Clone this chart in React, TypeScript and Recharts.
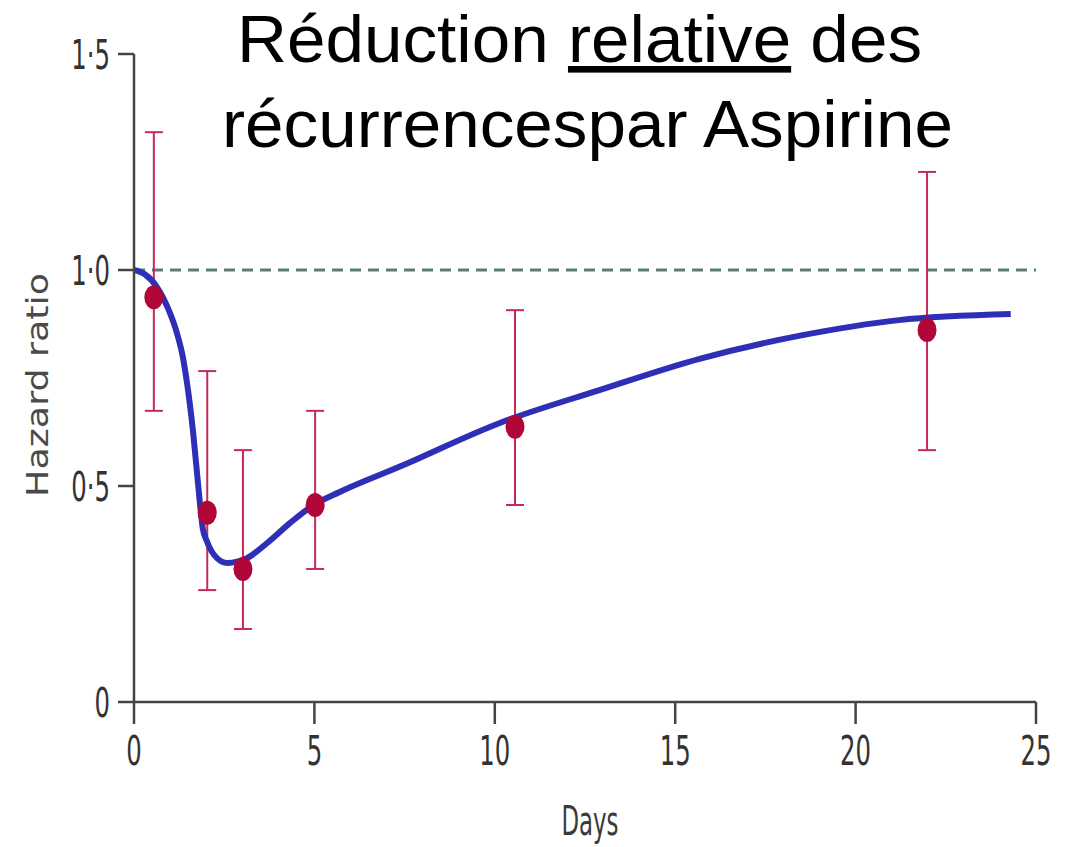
import React from 'react';
import {
  ComposedChart,
  Line,
  Scatter,
  ErrorBar,
  XAxis,
  YAxis,
  ReferenceLine,
} from 'recharts';

if (typeof document !== 'undefined') document.body.style.margin = '0';

// smoothed hazard-ratio curve (day, HR)
const curveDays = [0, 0.3, 0.64, 0.95, 1.19, 1.35, 1.47, 1.64, 1.77, 1.91, 2.02, 2.3, 2.58, 3.13, 3.69, 4.32, 4.96, 5.7, 7.37, 10.14, 12.9, 15.7, 18.46, 21.2, 24.3];
const curveHR = [1.0, 0.99, 0.96, 0.91, 0.854, 0.8, 0.738, 0.623, 0.51, 0.4, 0.372, 0.333, 0.322, 0.333, 0.368, 0.414, 0.455, 0.486, 0.545, 0.646, 0.722, 0.795, 0.848, 0.884, 0.898];

// observed estimates with 95% CI
const pointDays = [0.55, 2.03, 3.02, 5.02, 10.56, 21.98];
const pointHR = [0.937, 0.438, 0.308, 0.456, 0.637, 0.861];
const ciLow = [0.674, 0.259, 0.169, 0.308, 0.456, 0.583];
const ciHigh = [1.319, 0.766, 0.583, 0.674, 0.907, 1.227];

const xTicks = [0, 5, 10, 15, 20, 25];
const yTicks = [0, 0.5, 1, 1.5];

const curveData = curveDays.map((d, i) => ({ day: d, hr: curveHR[i] }));
const pointData = pointDays.map((d, i) => ({
  day: d,
  hr: pointHR[i],
  err: [pointHR[i] - ciLow[i], ciHigh[i] - pointHR[i]],
}));

const AXIS = '#444444';
const TICK_FONT = '"DejaVu Sans Condensed", "DejaVu Sans", sans-serif';

const fmtY = (v: number) => (v === 0 ? '0' : v.toFixed(1).replace('.', '\u00b7'));

// condensed tick labels: squeeze the glyphs horizontally
const XTick = (props: any) => (
  <text
    transform={`translate(${props.x},${props.y}) scale(0.66,1)`}
    textAnchor="middle"
    dy="0.72em"
    fontFamily={TICK_FONT}
    fontSize={41}
    fill="#333"
  >
    {props.payload.value}
  </text>
);

const YTick = (props: any) => (
  <text
    transform={`translate(${props.x},${props.y}) scale(0.66,1)`}
    textAnchor="end"
    dy="0.36em"
    fontFamily={TICK_FONT}
    fontSize={41}
    fill="#333"
  >
    {fmtY(props.payload.value)}
  </text>
);

const Dot = (props: any) => (
  <ellipse cx={props.cx} cy={props.cy} rx={9.5} ry={12} fill="#b00638" />
);

const DaysLabel = (props: any) => {
  const vb = props.viewBox;
  return (
    <text
      x={vb.x + vb.width / 2 + 5}
      y={vb.y + vb.height - 12}
      textAnchor="middle"
      fontFamily={TICK_FONT}
      fontSize={40}
      fill="#3a3a3a"
      textLength={57}
      lengthAdjust="spacingAndGlyphs"
    >
      Days
    </text>
  );
};

const HazardLabel = (props: any) => {
  const vb = props.viewBox;
  const x = vb.x + 48;
  const y = vb.y + vb.height / 2 + 7;
  return (
    <text
      x={x}
      y={y}
      transform={`rotate(-90, ${x}, ${y})`}
      textAnchor="middle"
      fontFamily={TICK_FONT}
      fontSize={30}
      fill="#4a4a4a"
      textLength={224}
      lengthAdjust="spacingAndGlyphs"
    >
      Hazard ratio
    </text>
  );
};

export default function App() {
  return (
    <div style={{ position: 'relative', width: 1076, height: 847, background: '#fff' }}>
      <ComposedChart width={1076} height={847} margin={{ top: 54, right: 40, left: 0, bottom: 0 }}>
        <XAxis
          type="number"
          dataKey="day"
          domain={[0, 25]}
          ticks={xTicks}
          interval={0}
          height={145}
          tickSize={22}
          tickMargin={11}
          axisLine={{ stroke: AXIS, strokeWidth: 2.5 }}
          tickLine={{ stroke: AXIS, strokeWidth: 2.5 }}
          tick={XTick}
          label={DaysLabel}
        />
        <YAxis
          type="number"
          dataKey="hr"
          domain={[0, 1.5]}
          ticks={yTicks}
          interval={0}
          width={134}
          tickSize={16}
          tickMargin={8}
          axisLine={{ stroke: AXIS, strokeWidth: 2.5 }}
          tickLine={{ stroke: AXIS, strokeWidth: 2.5 }}
          tick={YTick}
          label={HazardLabel}
        />
        <ReferenceLine y={1} stroke="#5c7b7d" strokeWidth={3} strokeDasharray="11 7" />
        <Scatter data={pointData} dataKey="hr" shape={Dot} isAnimationActive={false}>
          <ErrorBar dataKey="err" direction="y" width={9} stroke="#c62a58" strokeWidth={2} />
        </Scatter>
        <Line
          data={curveData}
          dataKey="hr"
          type="monotone"
          stroke="#2e2eb6"
          strokeWidth={6}
          dot={false}
          activeDot={false}
          isAnimationActive={false}
        />
      </ComposedChart>
      <svg
        width={1076}
        height={847}
        style={{ position: 'absolute', left: 0, top: 0, pointerEvents: 'none' }}
      >
        <text
          x={237}
          y={62}
          fontFamily='"Liberation Sans", Arial, sans-serif'
          fontSize={66}
          fill="#000"
          textLength={685}
          lengthAdjust="spacingAndGlyphs"
        >
          Réduction <tspan style={{ textDecoration: 'underline' }}>relative</tspan> des
        </text>
        <text
          x={222}
          y={147}
          fontFamily='"Liberation Sans", Arial, sans-serif'
          fontSize={66}
          fill="#000"
          textLength={731}
          lengthAdjust="spacingAndGlyphs"
        >
          récurrencespar Aspirine
        </text>
      </svg>
    </div>
  );
}
